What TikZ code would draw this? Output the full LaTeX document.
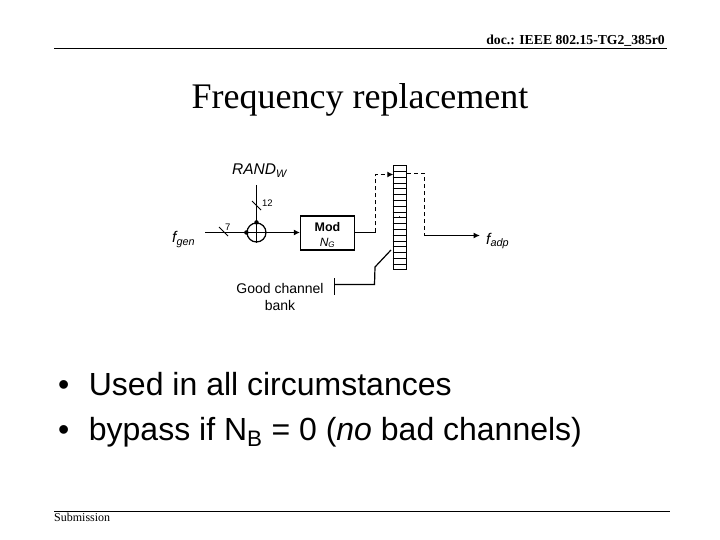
\documentclass[tikz,border=0pt]{standalone}
\usepackage{fontspec}
\setmainfont{Liberation Serif}
\newfontfamily\lsans{Liberation Sans}
\usetikzlibrary{arrows.meta}
\tikzset{
  wire/.style={line width=1.2pt,black},
  dashwire/.style={line width=1.2pt,black,dash pattern=on 4pt off 3pt},
  arrowtip/.style={-{Latex[length=6pt,width=6pt]}},
  lab/.style={inner sep=0pt,font=\lsans\fontsize{13}{15}\selectfont},
  blockbox/.style={draw,line width=1.2pt,minimum width=54pt,minimum height=34pt,inner sep=0pt,align=center},
  rule/.style={line width=1.1pt,black},
  junction/.style={circle,fill=black,inner sep=0pt,minimum size=4.5pt},
}
\begin{document}
\begin{tikzpicture}[x=1pt,y=-1pt]
\useasboundingbox (0,0) rectangle (720,540);
% header / footer
\coordinate (hl) at (54,48.5); \coordinate (hr) at (667,48.5);
\coordinate (fl) at (54,511.5); \coordinate (fr) at (670,511.5);
\draw[rule] (hl) -- (hr);
\draw[rule] (fl) -- (fr);
\node[anchor=base east,inner sep=0pt,font=\bfseries\fontsize{13.7}{15}\selectfont] (hdr) at (665,45) {doc.: IEEE 802.15-TG2\_385r0};
\node[anchor=base west,inner sep=0pt,font=\fontsize{12}{14}\selectfont] (ftr) at (54,521) {Submission};
\node[anchor=base,inner sep=0pt,font=\fontsize{36}{40}\selectfont] (title) at (360,109) {Frequency replacement};
% labels
\node[lab,anchor=base west,font=\lsans\itshape\fontsize{15.5}{17}\selectfont] (rand) at (232,175) {RAND\textsubscript{W}};
\node[lab,anchor=base west,font=\lsans\itshape\fontsize{15.5}{17}\selectfont] (fgen) at (172,243) {f\textsubscript{gen}};
\node[lab,anchor=base west,font=\lsans\itshape\fontsize{15.5}{17}\selectfont] (fadp) at (486,244) {f\textsubscript{adp}};
\node[lab,anchor=base west,font=\lsans\fontsize{9.5}{10}\selectfont] (n12) at (262,207) {12};
\node[lab,anchor=base west,font=\lsans\fontsize{9.5}{10}\selectfont] (n7) at (225,230) {7};
% xor
\node[circle,draw,line width=1.2pt,minimum size=19pt,inner sep=0pt] (xor) at (256.5,232.5) {};
\draw[wire] (xor.north) -- (xor.south);
\draw[wire] (xor.west) -- (xor.east);
% inputs
\coordinate (in1) at (205,232.5);
\coordinate (in2) at (256.5,185);
\draw[wire] (in1) -- (xor.west);
\draw[wire] (in2) -- (xor.north);
\node[junction] (j1) at (xor.west) {};
\node[junction] (j2) at (xor.north) {};
\coordinate (s1a) at (219,227); \coordinate (s1b) at (228,236);
\draw[wire,line width=0.8pt] (s1a) -- (s1b);
\coordinate (s2a) at (252,201); \coordinate (s2b) at (261,210);
\draw[wire,line width=0.8pt] (s2a) -- (s2b);
% mod
\node[blockbox] (mod) at (327.5,233) {};
\node[anchor=base,inner sep=0pt,font=\lsans\bfseries\fontsize{12.5}{14}\selectfont] (modt) at (327.5,231) {Mod};
\node[anchor=base,inner sep=0pt,font=\lsans\itshape\fontsize{12}{14}\selectfont] (modn) at (327.5,246) {N\textsubscript{G}};
\draw[wire,arrowtip] (xor.east) -- (mod.west |- xor.east);
% register
\node[draw,line width=1.2pt,minimum width=13.4pt,minimum height=104pt,inner sep=0pt] (reg) at (400,217.3) {};
\foreach \i in {1,...,17}{
  \draw[wire,line width=1pt] ([yshift=\i*5.78pt]reg.south west) -- ([yshift=\i*5.78pt]reg.south east);
}
\node[circle,fill=black,inner sep=0pt,minimum size=1pt] (regdot) at (399.5,216.7) {};
% mod to register
\coordinate (c1) at (375.5,232.5); \coordinate (c2) at (375.5,174.5); \coordinate (c3) at (393.3,174.5);
\draw[wire] (mod.east |- c1) -- (c1);
\draw[dashwire] (c1) -- (c2) -- (c3);
\draw[wire,arrowtip] (388,174.5) -- (c3);
% register to output
\coordinate (o0) at (reg.east |- 0,173.5); \coordinate (o1) at (424.5,173.5); \coordinate (o2) at (424.5,235.5); \coordinate (o3) at (480,235.5);
\draw[dashwire] (o0) -- (o1) -- (o2);
\draw[line width=1.8pt,-{Latex[length=6.5pt,width=6pt]}] (o2) -- (o3);
% good channel bank
\node[anchor=base,inner sep=0pt,font=\lsans\fontsize{14}{17}\selectfont] (gcb) at (280,293) {Good channel};
\node[anchor=base,inner sep=0pt,font=\lsans\fontsize{14}{17}\selectfont] (gcb2) at (280,310) {bank};
\coordinate (b1) at (334.5,278); \coordinate (b2) at (334.5,295);
\coordinate (b3) at (334.5,284.5); \coordinate (b4) at (374.5,284.5); \coordinate (b5) at (375,267); \coordinate (b6) at (391,250);
\draw[wire] (b1) -- (b2);
\draw[wire] (b3) -- (b4) -- (b5) -- (b6);
% bullets
\node[anchor=base west,inner sep=0pt,font=\lsans\fontsize{32}{36}\selectfont] (b1t) at (58,395) {•\hspace{19.5pt}Used in all circumstances};
\node[anchor=base west,inner sep=0pt,font=\lsans\fontsize{32}{36}\selectfont] (b2t) at (58,440) {•\hspace{19.5pt}bypass if N\textsubscript{B} = 0 (\textit{no} bad channels)};
\end{tikzpicture}
\end{document}
